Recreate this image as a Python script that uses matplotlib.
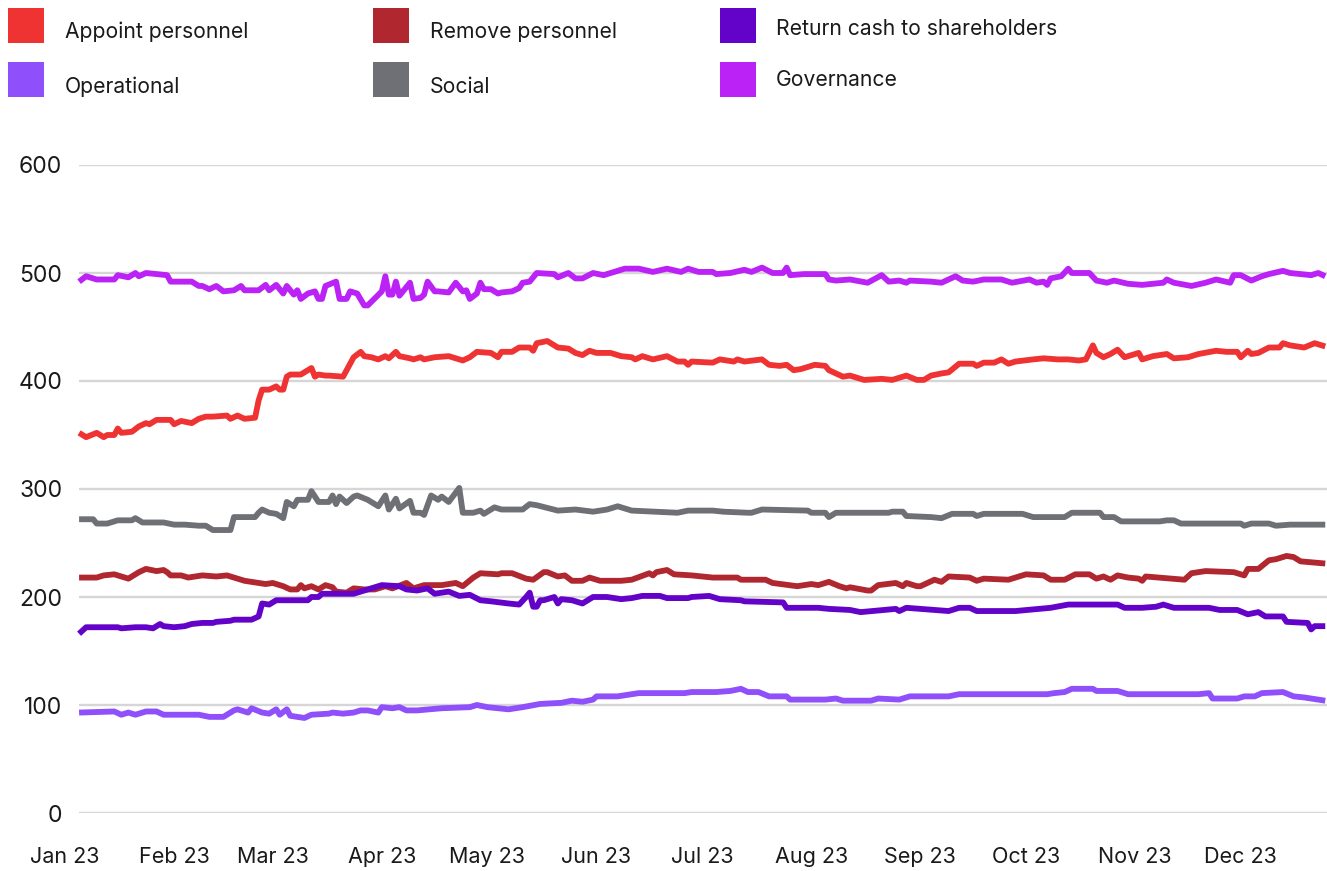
import pandas as pd
import matplotlib
matplotlib.use("Agg")
import matplotlib.pyplot as plt
import matplotlib.dates as mdates
from matplotlib.patches import Rectangle

plt.rcParams['font.family'] = ['Inter', 'DejaVu Sans']

start = pd.Timestamp('2023-01-01')

# day of year (0 = 1 Jan) and value for each series
appoint_day = [4, 6, 9, 11, 12, 14, 15, 16, 19, 21, 23, 24, 26, 30, 31, 33, 36, 38, 40, 42, 46, 47, 49, 51, 54, 55, 56, 58,
               60, 61, 62, 63, 64, 67, 70, 71, 72, 74, 75, 79, 82, 84, 85, 87, 89, 91, 92, 94, 95, 98, 99, 101, 102, 105,
               109, 113, 115, 117, 121, 123, 124, 127, 129, 132, 133, 134, 137, 140, 143, 145, 147, 149, 151, 155, 158,
               161, 162, 164, 167, 171, 174, 176, 177, 178, 184, 186, 190, 191, 193, 198, 200, 203, 205, 207, 209, 213,
               216, 217, 221, 223, 227, 232, 235, 239, 242, 244, 246, 249, 251, 254, 258, 259, 261, 264, 266, 268, 270,
               275, 278, 282, 285, 288, 290, 292, 293, 295, 297, 299, 301, 303, 305, 306, 309, 313, 315, 319, 322, 327,
               330, 333, 334, 336, 337, 339, 342, 345, 346, 348, 352, 355, 357, 358]
appoint_val = [352, 348, 352, 348, 350, 350, 356, 352, 353, 358, 361, 360, 364, 364, 360, 363, 361, 365, 367, 367, 368, 365,
               368, 365, 366, 382, 392, 392, 395, 392, 392, 404, 406, 406, 412, 404, 406, 405, 405, 404, 422, 427, 423,
               422, 420, 423, 421, 427, 423, 421, 420, 422, 420, 422, 423, 419, 422, 427, 426, 422, 427, 427, 431, 431,
               428, 435, 437, 431, 430, 426, 424, 428, 426, 426, 423, 422, 420, 423, 420, 423, 418, 418, 415, 418, 417,
               420, 418, 420, 418, 420, 415, 414, 415, 410, 411, 415, 414, 410, 404, 405, 401, 402, 401, 405, 401, 401,
               405, 407, 408, 416, 416, 414, 417, 417, 420, 416, 418, 420, 421, 420, 420, 419, 420, 433, 426, 422, 425,
               429, 422, 424, 426, 420, 423, 425, 421, 422, 425, 428, 427, 427, 422, 428, 425, 426, 431, 431, 435, 433,
               431, 435, 433, 432]

remove_day = [4, 9, 11, 14, 15, 18, 19, 21, 23, 26, 28, 29, 30, 33, 35, 39, 43, 46, 49, 51, 53, 57, 59, 62, 64, 66, 67, 68,
              70, 72, 74, 76, 77, 80, 82, 85, 88, 91, 93, 97, 99, 102, 107, 111, 113, 116, 118, 123, 124, 127, 131, 133,
              136, 137, 140, 142, 144, 147, 149, 152, 158, 161, 166, 167, 168, 171, 173, 178, 184, 191, 192, 199, 201,
              208, 212, 214, 217, 220, 222, 223, 228, 229, 231, 236, 238, 239, 242, 243, 247, 249, 251, 257, 259, 261,
              268, 273, 278, 280, 284, 287, 291, 293, 295, 297, 299, 302, 305, 306, 307, 318, 320, 324, 332, 335, 336,
              339, 342, 344, 347, 349, 351, 358]
remove_val = [218, 218, 220, 221, 220, 217, 219, 223, 226, 224, 225, 223, 220, 220, 218, 220, 219, 220, 217, 215, 214, 212,
              213, 210, 207, 207, 211, 208, 210, 207, 211, 209, 205, 204, 208, 207, 207, 210, 208, 213, 208, 211, 211,
              213, 210, 218, 222, 221, 222, 222, 217, 216, 223, 223, 219, 220, 215, 215, 218, 215, 215, 216, 222, 220,
              223, 225, 221, 220, 218, 218, 216, 216, 213, 210, 212, 211, 214, 210, 208, 209, 206, 206, 211, 213, 210,
              213, 210, 210, 216, 214, 219, 218, 215, 217, 216, 221, 220, 216, 216, 221, 221, 217, 219, 216, 220, 218,
              217, 215, 219, 216, 222, 224, 223, 220, 226, 226, 234, 235, 238, 237, 233, 231]

cash_day = [4, 6, 15, 16, 20, 23, 25, 27, 28, 31, 34, 36, 39, 42, 43, 47, 48, 53, 55, 56, 58, 60, 64, 69, 70, 72, 73, 82,
            84, 90, 95, 97, 100, 103, 105, 109, 112, 115, 118, 121, 126, 129, 131, 132, 133, 134, 135, 136, 139, 140,
            141, 144, 147, 150, 154, 158, 161, 164, 169, 171, 177, 178, 183, 186, 192, 193, 204, 205, 214, 217, 223,
            226, 236, 237, 239, 251, 254, 257, 259, 270, 280, 285, 299, 301, 306, 310, 312, 315, 325, 328, 333, 336,
            339, 341, 346, 347, 353, 354, 355, 358]
cash_val = [166, 172, 172, 171, 172, 172, 171, 175, 173, 172, 173, 175, 176, 176, 177, 178, 179, 179, 182, 194, 193, 197,
            197, 197, 200, 200, 203, 203, 205, 211, 210, 207, 206, 208, 203, 205, 201, 202, 197, 196, 194, 193, 200,
            204, 191, 191, 197, 197, 200, 194, 198, 197, 194, 200, 200, 198, 199, 201, 201, 199, 199, 200, 201, 198,
            197, 196, 195, 190, 190, 189, 188, 186, 189, 187, 190, 187, 190, 190, 187, 187, 190, 193, 193, 190, 190,
            191, 193, 190, 190, 188, 188, 184, 186, 182, 182, 177, 176, 170, 173, 173]

oper_day = [4, 14, 16, 18, 20, 23, 26, 28, 38, 41, 45, 48, 49, 52, 53, 56, 58, 60, 61, 63, 64, 68, 70, 75, 76, 79, 82, 84,
            86, 89, 90, 93, 95, 97, 100, 107, 115, 117, 120, 126, 130, 135, 141, 144, 147, 150, 151, 157, 163, 176, 178,
            185, 189, 192, 194, 197, 200, 205, 206, 216, 219, 221, 223, 229, 231, 237, 240, 251, 254, 279, 281, 284,
            286, 292, 293, 299, 302, 312, 322, 325, 326, 333, 335, 338, 340, 346, 349, 352, 356, 358]
oper_val = [93, 94, 91, 93, 91, 94, 94, 91, 91, 89, 89, 95, 96, 93, 97, 93, 92, 96, 91, 96, 90, 88, 91, 92, 93, 92, 93, 95,
            95, 93, 98, 97, 98, 95, 95, 97, 98, 100, 98, 96, 98, 101, 102, 104, 103, 105, 108, 108, 111, 111, 112, 112,
            113, 115, 112, 112, 108, 108, 105, 105, 106, 104, 104, 104, 106, 105, 108, 108, 110, 110, 111, 112, 115,
            115, 113, 113, 110, 110, 110, 111, 106, 106, 108, 108, 111, 112, 108, 107, 105, 104]

social_day = [4, 8, 9, 12, 15, 19, 20, 22, 28, 31, 34, 38, 40, 42, 47, 48, 54, 55, 56, 58, 60, 62, 63, 65, 66, 69, 70, 72,
              75, 76, 77, 78, 80, 82, 83, 86, 89, 91, 92, 94, 95, 98, 99, 101, 102, 104, 106, 107, 109, 112, 113, 116,
              118, 119, 122, 124, 130, 132, 134, 140, 145, 150, 154, 157, 161, 174, 177, 184, 187, 194, 195, 198, 211,
              212, 216, 217, 219, 223, 234, 235, 238, 239, 246, 249, 252, 258, 259, 261, 272, 275, 284, 286, 294, 295,
              298, 300, 311, 313, 315, 317, 334, 335, 337, 342, 344, 348, 358]
social_val = [272, 272, 268, 268, 271, 271, 273, 269, 269, 267, 267, 266, 266, 262, 262, 274, 274, 278, 281, 278, 277, 273,
              288, 284, 290, 290, 298, 288, 288, 294, 286, 293, 287, 293, 294, 290, 284, 294, 281, 291, 282, 289, 278,
              278, 276, 294, 290, 293, 288, 301, 278, 278, 280, 277, 283, 281, 281, 286, 285, 280, 281, 279, 281, 284,
              280, 278, 280, 280, 279, 278, 278, 281, 280, 278, 278, 274, 278, 278, 278, 279, 279, 275, 274, 273, 277,
              277, 275, 277, 277, 274, 274, 278, 278, 274, 274, 270, 270, 271, 271, 268, 268, 266, 268, 268, 266, 267,
              267]

gov_day = [4, 6, 9, 14, 15, 18, 20, 21, 23, 26, 29, 30, 36, 38, 39, 41, 43, 45, 48, 50, 51, 55, 57, 58, 60, 62, 63, 65, 66,
           67, 69, 71, 72, 73, 74, 77, 78, 80, 81, 83, 85, 86, 90, 91, 92, 93, 94, 95, 98, 99, 101, 102, 103, 105, 106,
           109, 111, 113, 114, 115, 117, 118, 119, 121, 123, 124, 127, 129, 130, 132, 134, 139, 140, 143, 145, 147, 150,
           153, 159, 163, 167, 171, 175, 177, 180, 184, 185, 189, 193, 195, 198, 201, 204, 205, 206, 210, 216, 217, 219,
           223, 228, 232, 234, 237, 239, 240, 246, 249, 253, 255, 258, 261, 266, 269, 274, 276, 278, 279, 280, 283, 285,
           286, 288, 291, 293, 296, 298, 302, 306, 312, 313, 315, 320, 324, 327, 331, 332, 334, 337, 340, 342, 346, 348,
           354, 356, 358]
gov_val = [492, 497, 494, 494, 498, 496, 500, 497, 500, 499, 498, 492, 492, 488, 488, 485, 488, 483, 484, 488, 484, 484, 489,
           484, 489, 481, 488, 480, 484, 476, 481, 483, 476, 476, 488, 492, 476, 476, 483, 481, 470, 470, 483, 497, 480,
           480, 492, 479, 491, 476, 477, 480, 492, 483, 483, 482, 491, 483, 484, 476, 481, 491, 485, 485, 481, 482, 483,
           486, 491, 492, 500, 499, 496, 500, 495, 495, 500, 498, 504, 504, 501, 504, 501, 504, 501, 501, 499, 500, 503,
           501, 505, 500, 500, 505, 498, 499, 499, 494, 493, 494, 491, 498, 492, 493, 491, 493, 492, 491, 497, 493, 492,
           494, 494, 491, 494, 491, 492, 489, 495, 497, 504, 500, 500, 500, 493, 491, 493, 490, 489, 491, 494, 491, 488,
           491, 494, 491, 498, 498, 493, 497, 499, 502, 500, 498, 500, 497]

names = ['Appoint personnel', 'Remove personnel', 'Return cash to shareholders',
         'Operational', 'Social', 'Governance']
colors = ['#EF3333', '#B0272F', '#6303C9', '#8F4FFB', '#6E7076', '#BB22F5']
series = [(appoint_day, appoint_val), (remove_day, remove_val), (cash_day, cash_val),
          (oper_day, oper_val), (social_day, social_val), (gov_day, gov_val)]

W, H = 1327, 871
fig = plt.figure(figsize=(W / 100, H / 100), dpi=100)
ax = fig.add_axes([65 / W, 1 - 813 / H, 1 - 65 / W, (813 - 165) / H])

first = start + pd.Timedelta(days=min(appoint_day))
last = start + pd.Timedelta(days=max(appoint_day) + 0.5)
ax.set_xlim(start, last)
ax.set_ylim(0, 600)

yt = [0, 100, 200, 300, 400, 500, 600]
ax.hlines(yt, first, last, color='#D6D6D6', lw=1.7, zorder=0)

for (d, v), c in zip(series, colors):
    x = start + pd.to_timedelta(d, unit='D')
    ax.plot(x, v, color=c, lw=4.2, solid_joinstyle='round', solid_capstyle='butt', zorder=2)

for s in ax.spines.values():
    s.set_visible(False)
ax.set_yticks(yt)
ax.tick_params(axis='y', length=0, pad=2, labelsize=16.5, labelcolor='#1A1A1A')
ax.xaxis.set_major_locator(mdates.MonthLocator())
ax.xaxis.set_major_formatter(mdates.DateFormatter('%b %y'))
ax.tick_params(axis='x', length=0, pad=24.5, labelsize=15.5, labelcolor='#1A1A1A')

# legend, laid out by hand
legend_pos = [(8, 8, 65, 32), (373, 8, 430, 32), (720, 8, 776, 29),
              (8, 62, 65, 87), (373, 62, 430, 87), (720, 62, 776, 80)]
for (bx, by, tx, ty), name, c in zip(legend_pos, names, colors):
    fig.add_artist(Rectangle((bx / W, 1 - (by + 35) / H), 36 / W, 35 / H,
                             transform=fig.transFigure, color=c, lw=0))
    fig.text(tx / W, 1 - ty / H, name, fontsize=15.2, color='#1A1A1A', va='center', ha='left')

fig.savefig('out.png', dpi=100)
